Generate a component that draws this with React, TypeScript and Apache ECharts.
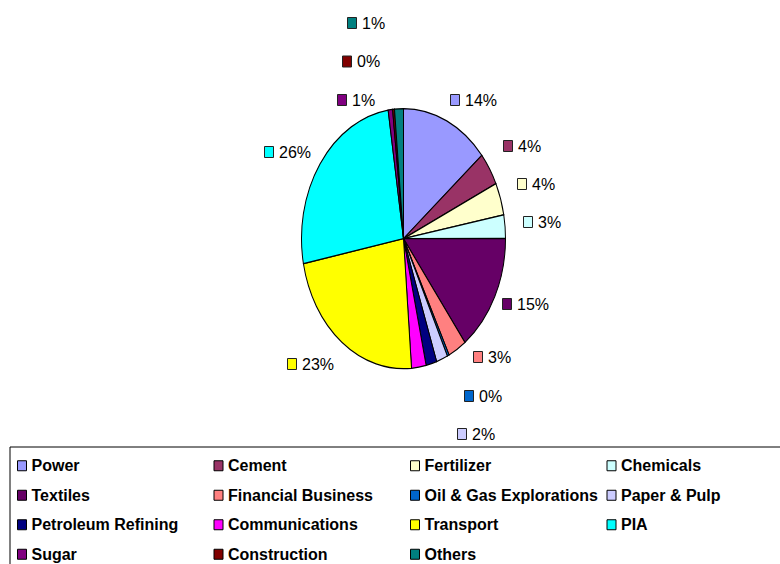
import React, { useEffect, useRef } from 'react';
import * as echarts from 'echarts';

const categories = [
  'Power', 'Cement', 'Fertilizer', 'Chemicals', 'Textiles', 'Financial Business',
  'Oil & Gas Explorations', 'Paper & Pulp', 'Petroleum Refining', 'Communications',
  'Transport', 'PIA', 'Sugar', 'Construction', 'Others',
];
const shares = [13.9, 4.1, 4.0, 2.9, 14.7, 2.9, 0.3, 1.8, 1.7, 2.3, 23.1, 25.6, 0.7, 0.3, 1.4];
const colors = [
  '#9999FF', '#993366', '#FFFFCC', '#CCFFFF', '#660066', '#FF8080', '#0066CC', '#CCCCFF',
  '#000080', '#FF00FF', '#FFFF00', '#00FFFF', '#800080', '#800000', '#008080',
];
// label layout: [marker left x, centre y]; null = label hidden behind the legend
const labelAnchors: ([number, number] | null)[] = [
  [450, 100], [503, 146], [517, 184], [523, 222], [502, 304], [473, 357], [464, 396],
  [457, 434], null, null, [287, 364], [264, 152], [337, 100], [342, 61.5], [347, 23],
];

const CX = 403.5;
const CY = 238.5;
const RX = 102;
const RY = 130;

export default function App() {
  const ref = useRef<HTMLDivElement>(null);
  useEffect(() => {
    document.body.style.margin = '0';
    if (!ref.current) return;
    const chart = echarts.init(ref.current, undefined, { renderer: 'svg' });
    const total = shares.reduce((a, b) => a + b, 0);
    const cum: number[] = [0];
    shares.forEach((v) => cum.push(cum[cum.length - 1] + v));

    const series = categories.map((name, i) => ({
      type: 'custom',
      name,
      coordinateSystem: 'none',
      itemStyle: { color: colors[i], borderColor: '#000', borderWidth: 1 },
      data: [[shares[i]]],
      renderItem: (params: any, api: any) => {
        const v = api.value(0);
        const start = -Math.PI / 2 + (cum[i] / total) * 2 * Math.PI;
        const end = start + (v / total) * 2 * Math.PI;
        const children: any[] = [
          {
            type: 'sector',
            shape: { cx: CX, cy: CY, r0: 0, r: RX, startAngle: start, endAngle: end, clockwise: true },
            originX: CX,
            originY: CY,
            scaleY: RY / RX,
            style: { fill: colors[i], stroke: '#000', lineWidth: 1, strokeNoScale: true },
          },
        ];
        const a = labelAnchors[i];
        if (a) {
          children.push({
            type: 'rect',
            shape: { x: a[0] + 0.5, y: a[1] - 5.5, width: 9, height: 11 },
            style: { fill: colors[i], stroke: '#222', lineWidth: 1 },
          });
          children.push({
            type: 'text',
            x: a[0] + 15,
            y: a[1],
            style: {
              text: Math.round((v / total) * 100) + '%',
              fill: '#000',
              font: '16px "Liberation Sans", Arial, sans-serif',
              align: 'left',
              verticalAlign: 'middle',
            },
          });
        }
        return { type: 'group', children };
      },
    }));

    chart.setOption({
      animation: false,
      backgroundColor: '#fff',
      legend: {
        data: categories,
        selectedMode: false,
        orient: 'horizontal',
        left: 10,
        top: 447,
        width: 800,
        padding: [4, 0, 0, 7],
        itemWidth: 9,
        itemHeight: 10,
        itemGap: 0,
        icon: 'rect',
        borderColor: '#000',
        borderWidth: 1,
        backgroundColor: '#fff',
        itemStyle: { borderColor: '#000', borderWidth: 1 },
        textStyle: {
          fontFamily: '"Liberation Sans", Arial, sans-serif',
          fontWeight: 'bold',
          fontSize: 16,
          color: '#000',
          width: 182,
          lineHeight: 29.5,
        },
      },
      series,
    });
    return () => chart.dispose();
  }, []);
  return <div ref={ref} style={{ width: 780, height: 564 }} />;
}
